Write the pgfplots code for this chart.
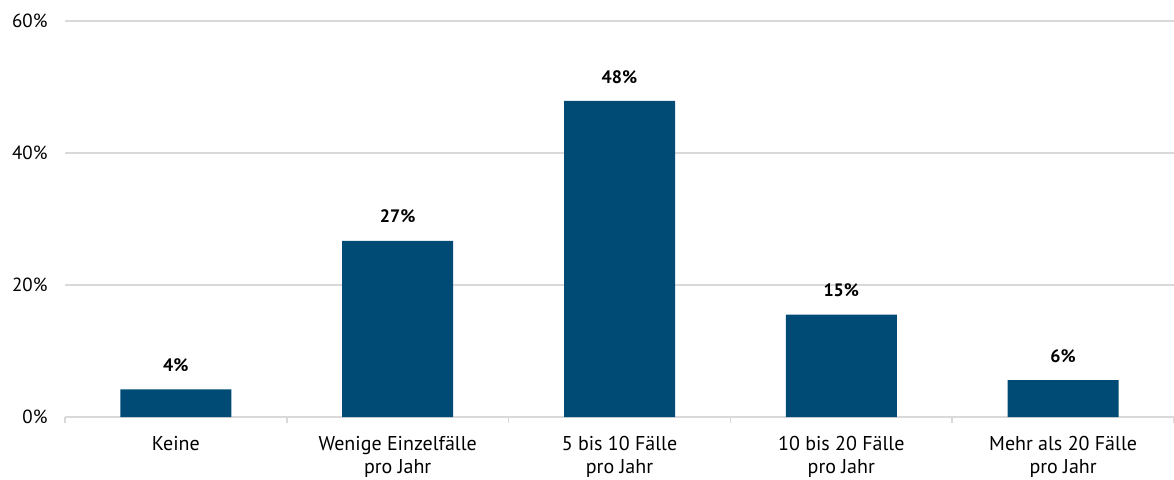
\documentclass[border=0pt]{standalone}
\usepackage{pgfplots}
\pgfplotsset{compat=1.18}
\usepackage{fontspec}
\setmainfont{PT Sans}
\definecolor{barblue}{HTML}{004B76}
\definecolor{gridgray}{HTML}{D9D9D9}
\begin{document}
\begin{tikzpicture}
\begin{axis}[
  name=ax,
  scale only axis,
  width=1109pt, height=396pt,
  ymin=0, ymax=60,
  xmin=-0.5, xmax=4.5,
  ytick={0,20,40,60},
  yticklabel={\pgfmathprintnumber{\tick}\%},
  /pgf/number format/assume math mode=true,
  xtick={0,1,2,3,4},
  xticklabels={Keine, Wenige Einzelfälle\\pro Jahr, 5 bis 10 Fälle\\pro Jahr, 10 bis 20 Fälle\\pro Jahr, Mehr als 20 Fälle\\pro Jahr},
  xticklabel style={align=center, font=\fontsize{20}{23}\selectfont, yshift=-16pt},
  yticklabel style={font=\fontsize{19}{21}\selectfont, xshift=-14pt},
  xtick pos=lower,
  extra x ticks={-0.5,0.5,1.5,2.5,3.5,4.5},
  extra x tick labels={},
  extra x tick style={major tick length=6pt, tick style={gridgray, line width=1.5pt}, tick align=outside, xtick pos=lower},
  major tick length=0pt,
  ymajorgrids,
  grid style={gridgray, line width=1.2pt},
  axis line style={draw=none},
  ytick style={draw=none},
  ybar,
  bar width=111pt,
  nodes near coords={\textbf{\pgfmathprintnumber{\pgfplotspointmeta}\%}},
  nodes near coords style={font=\fontsize{18}{21}\selectfont, yshift=14pt, text=black},
  point meta=explicit,
  clip=false,
]
\addplot[fill=barblue, draw=none] coordinates {
  (0,4.2) [4]
  (1,26.7) [27]
  (2,47.9) [48]
  (3,15.5) [15]
  (4,5.6) [6]
};
\end{axis}
\pgfresetboundingbox
\path[use as bounding box] ([xshift=-65pt,yshift=-62pt]ax.south west) rectangle ([yshift=21pt]ax.north east);
\end{tikzpicture}
\end{document}
